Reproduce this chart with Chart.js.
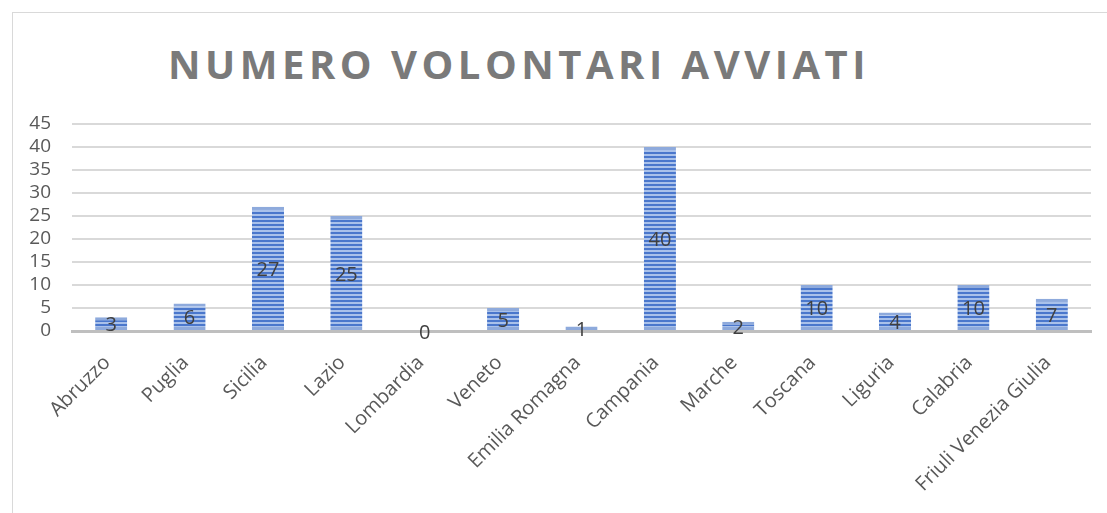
<!DOCTYPE html>
<html>
<head>
<meta charset="utf-8">
<script src="https://cdn.jsdelivr.net/npm/chart.js@4.4.1/dist/chart.umd.min.js"></script>
<style>
  html, body { margin: 0; padding: 0; background: #fff; }
  #wrap { position: relative; width: 1107px; height: 513px; overflow: hidden; }
  #frame { position: absolute; left: 12px; top: 12px; width: 1110px; height: 520px; border: 1px solid #d9d9d9; box-sizing: border-box; }
  #title { position: absolute; left: 4px; width: 1030px; top: 36px; text-align: center;
    font-family: "Open Sans", sans-serif; font-weight: bold; font-size: 40px; letter-spacing: 4.5px; color: #7a7a7a; }
  canvas { position: absolute; left: 0; top: 0; }
</style>
</head>
<body>
<div id="wrap">
  <div id="frame"></div>
  <div id="title">NUMERO VOLONTARI AVVIATI</div>
  <canvas id="chart" width="1107" height="513"></canvas>
</div>
<script>
var regions = ['Abruzzo', 'Puglia', 'Sicilia', 'Lazio', 'Lombardia', 'Veneto', 'Emilia Romagna',
  'Campania', 'Marche', 'Toscana', 'Liguria', 'Calabria', 'Friuli Venezia Giulia'];
var volontari = [3, 6, 27, 25, 0, 5, 1, 40, 2, 10, 4, 10, 7];

(function() {
    document.addEventListener("DOMContentLoaded", function () {
        // horizontal striped fill, like the Excel pattern
        var pc = document.createElement('canvas');
        pc.width = 4; pc.height = 4;
        var p = pc.getContext('2d');
        p.fillStyle = '#a9c1ea'; p.fillRect(0, 0, 4, 4);
        p.fillStyle = '#4a77cc'; p.fillRect(0, 0, 4, 2);
        var ctx = document.getElementById('chart').getContext('2d');
        var stripes = ctx.createPattern(pc, 'repeat');

        // value labels in the middle of each bar
        var valueLabels = {
            id: 'valueLabels',
            afterDatasetsDraw: function (chart) {
                var c = chart.ctx;
                var meta = chart.getDatasetMeta(0);
                c.save();
                c.font = '20px "Open Sans", sans-serif';
                c.fillStyle = '#404040';
                c.textAlign = 'center';
                c.textBaseline = 'middle';
                meta.data.forEach(function (bar, i) {
                    var mid = (bar.y + bar.base) / 2;
                    c.fillText(String(volontari[i]), bar.x, mid + 2);
                });
                c.restore();
            }
        };

        new Chart(ctx, {
            type: 'bar',
            data: {
                labels: regions,
                datasets: [{
                    data: volontari,
                    backgroundColor: stripes,
                    borderColor: '#8eaadc',
                    borderWidth: { top: 3, bottom: 3, left: 0, right: 0 },
                    borderSkipped: false,
                    categoryPercentage: 1,
                    barPercentage: 0.41
                }]
            },
            options: {
                responsive: false,
                animation: false,
                layout: { padding: { left: 12, top: 124, right: 16, bottom: 0 } },
                plugins: {
                    legend: { display: false },
                    tooltip: { enabled: false }
                },
                scales: {
                    x: {
                        grid: { display: false },
                        border: { color: '#bfbfbf', width: 3 },
                        ticks: {
                            minRotation: 45, maxRotation: 45,
                            autoSkip: false,
                            color: '#595959',
                            font: { family: '"Open Sans", sans-serif', size: 20 },
                            padding: 12,
                            labelOffset: -4
                        },
                        afterFit: function (scale) { scale.height = 182; }
                    },
                    y: {
                        min: 0, max: 45,
                        grid: { color: '#d9d9d9', lineWidth: 2, drawTicks: false },
                        border: { display: false },
                        ticks: {
                            stepSize: 5,
                            autoSkip: false,
                            color: '#595959',
                            font: { family: '"Open Sans", sans-serif', size: 19 },
                            padding: 21
                        },
                        afterFit: function (scale) { scale.width = 60; }
                    }
                }
            },
            plugins: [valueLabels]
        });
    });
})();
</script>
</body>
</html>
